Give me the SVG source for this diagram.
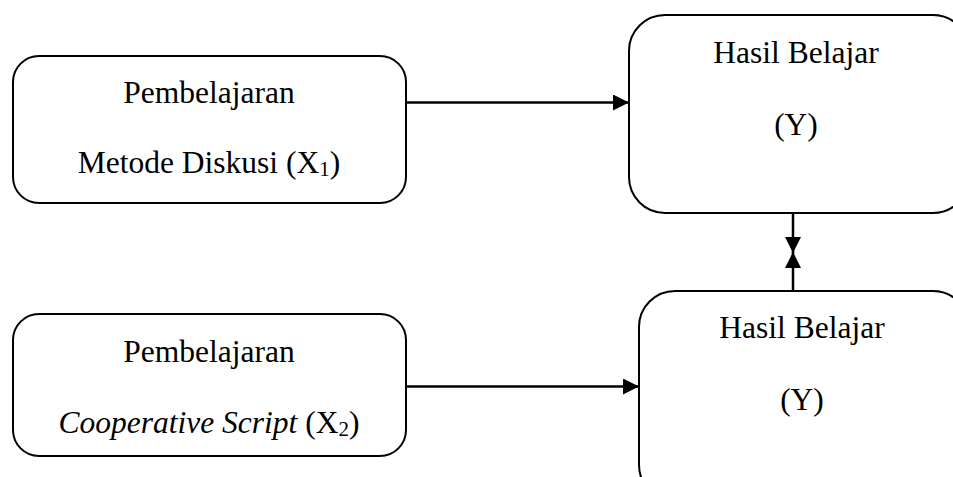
<svg xmlns="http://www.w3.org/2000/svg" width="953" height="477" viewBox="0 0 953 477">
  <style>
    .box { fill: #fff; stroke: #000; stroke-width: 2; }
    .lbl { font-family: "Liberation Serif", "Times New Roman", serif; font-size: 31.5px; fill: #000; text-anchor: middle; }
    .sub { font-size: 21px; }
    .edge { stroke: #000; stroke-width: 2.5; fill: none; }
  </style>
  <defs>
    <marker id="arrow" markerWidth="17" markerHeight="17" refX="16" refY="8" orient="auto" markerUnits="userSpaceOnUse">
      <path d="M0,0 L16,8 L0,16 Z" fill="#000"/>
    </marker>
  </defs>
  <rect width="953" height="477" fill="#fff"/>

  <g id="x1">
    <rect class="box" x="13" y="56" width="393" height="147" rx="26"/>
    <text class="lbl" x="209" y="103">Pembelajaran</text>
    <text class="lbl" x="209" y="173">Metode Diskusi (X<tspan class="sub" dy="3">1</tspan><tspan dy="-3">)</tspan></text>
  </g>

  <g id="x2">
    <rect class="box" x="13" y="314" width="393" height="142" rx="26"/>
    <text class="lbl" x="209" y="362">Pembelajaran</text>
    <text class="lbl" x="209" y="433"><tspan font-style="italic">Cooperative Script</tspan> (X<tspan class="sub" dy="3">2</tspan><tspan dy="-3">)</tspan></text>
  </g>

  <g id="y1">
    <rect class="box" x="629" y="15" width="340" height="198" rx="36"/>
    <text class="lbl" x="796" y="63">Hasil Belajar</text>
    <text class="lbl" x="796" y="135">(Y)</text>
  </g>

  <g id="y2">
    <rect class="box" x="639" y="291" width="330" height="210" rx="36"/>
    <text class="lbl" x="802" y="338">Hasil Belajar</text>
    <text class="lbl" x="802" y="410">(Y)</text>
  </g>

  <g id="connectors">
    <line class="edge" x1="406" y1="102.5" x2="629" y2="102.5" marker-end="url(#arrow)"/>
    <line class="edge" x1="406" y1="386.5" x2="639" y2="386.5" marker-end="url(#arrow)"/>
    <line class="edge" x1="793" y1="213" x2="793" y2="253" marker-end="url(#arrow)"/>
    <line class="edge" x1="793" y1="291" x2="793" y2="252" marker-end="url(#arrow)"/>
  </g>
</svg>
